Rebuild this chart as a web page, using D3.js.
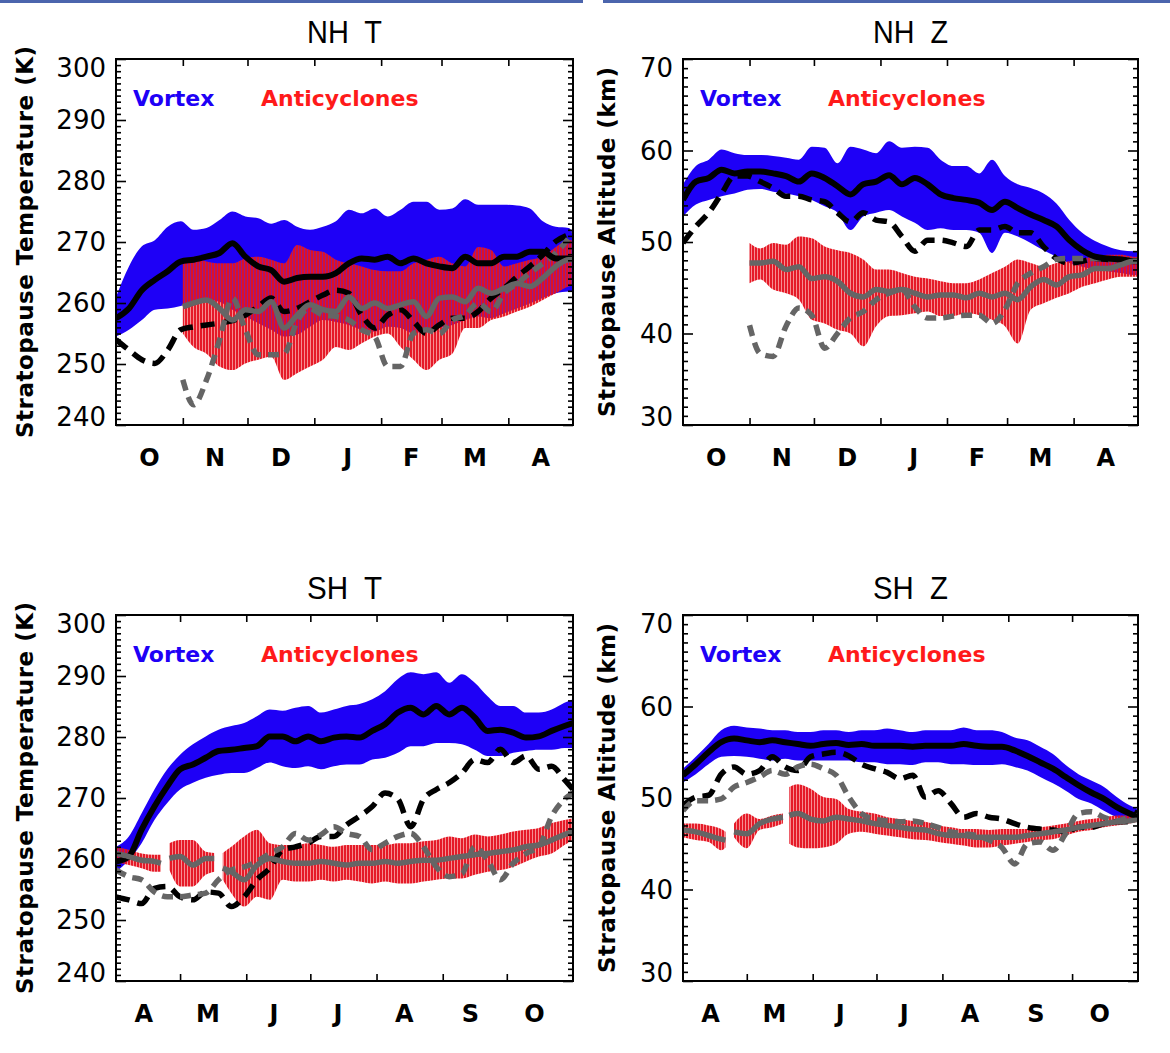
<!DOCTYPE html>
<html><head><meta charset="utf-8">
<script src="https://cdn.jsdelivr.net/npm/d3@7"></script>
<style>body{margin:0;background:#fff}svg{display:block}</style>
</head><body>
<svg id="chart" width="1170" height="1053"></svg>
<script>
// ---------- categories / ticks ----------
const monthsNH = ["O","N","D","J","F","M","A"];
const monthsSH = ["A","M","J","J","A","S","O"];
const monthEdgesNH = [31,61,92,123,151,182];      // days since 1 Oct
const monthEdgesSH = [30,61,91,122,153,183];      // days since 1 Apr
const monthLabelDayNH = [15.5,46,76.5,107.5,137,166.5,197];
const monthLabelDaySH = [13,43,74,104,135,166,196];
const yTicksT = [240,250,260,270,280,290,300];
const yTicksZ = [30,40,50,60,70];

// ---------- sample days ----------
const daysNH = [0,6,12,18,24,30,36,42,48,54,60,66,72,78,84,90,96,102,108,114,120,126,132,138,144,150,156,162,168,174,180,186,192,198,204,210,212];
const aDaysNH = [31,36,42,48,54,60,66,72,78,84,90,96,102,108,114,120,126,132,138,144,150,156,162,168,174,180,186,192,198,204,210,212];
const daysSH = [0,6,12,18,24,30,36,42,48,54,60,66,72,78,84,90,96,102,108,114,120,126,132,138,144,150,156,162,168,174,180,186,192,198,204,210,214];
const aDaysSHT = [0,6,12,18,21,23,25,30,36,42,46,48,50,54,60,66,72,78,84,90,96,102,108,114,120,126,132,138,144,150,156,162,168,174,180,186,192,198,204,210,214];
const aDaysSHZ = [0,6,12,18,20,22,24,30,36,42,47,48,50,54,60,66,72,78,84,90,96,102,108,114,120,126,132,138,144,150,156,162,168,174,180,186,192,198,204,210,214];

// ---------- NH T ----------
const nhtVortexHi = [261,266,269.3,270.3,272.5,273.4,272,272.3,273.6,275,274.2,273.9,273,273.6,272.5,272,272.5,273.4,275.3,274.7,275.5,274.2,275.3,276.6,276.6,275.3,275.5,277,276.1,276.1,276.1,276,275.5,273.4,272.5,272.3,271.5];
const nhtVortexLo = [254.5,255.6,257.2,258.9,259.1,259.5,260.2,260.5,260.2,258.9,257.8,256.7,255.6,254.5,254.8,256.1,257.2,256.9,256.4,255.6,255.3,256.1,255.9,255,255.6,255.9,256.4,257.2,257.8,257.5,258.3,259.1,259.9,260.8,261.6,261.9,261.9];
const nhtVortexMean = [257.5,259.1,262.1,263.8,265.2,266.8,267.1,267.6,268.2,269.8,267.6,266,265.4,263.5,264.1,264.3,264.3,264.9,266.5,267.3,267.1,267.6,266.5,267.3,266.5,266,265.7,267.6,266.5,266.5,267.6,267.6,268.4,268.4,267.3,267.3,267.2];
const nhtDashBlack = [254,252.3,250.7,250.1,252.3,255.6,256.1,256.4,256.7,257.1,258,259.4,260.8,258.6,259.1,260.2,261.3,262.1,261.6,258,255.9,258,258.9,257,255,256.4,257.5,257.5,258.6,260.8,262.4,264.3,266,267.9,270.1,271.2,271.5];
const nhtAntiHi = [266.5,267.6,266.8,266.5,266.5,267.3,267.6,267.1,266.5,269.5,268.7,268.4,267.1,266.5,266,265.4,265.2,265.2,266.5,267.1,267.6,266.5,266,269.2,268.7,266,266.5,267.1,267.6,269.2,270.3,270.3];
const nhtAntiLo = [255,252.8,251.7,249.6,249,250.1,250.7,251.2,247.4,248.5,249.6,250.7,252.8,252.3,253.4,254.5,255,252.8,250.7,249,250.7,251.7,255.9,255.9,257.2,257.8,258.6,259.4,260.5,261.6,262.7,262.9];
const nhtAntiMean = [259.4,260,260.5,259.1,257.2,258.9,258.6,260.2,255.9,258,259.7,258.9,258.6,261,259.1,260,259.1,259.7,260.2,257.8,260.8,261,260.2,262.4,261.6,262.4,263.2,262.7,264.1,266,267.1,267.1];
const nhtDashGray = [247.4,243.3,247.4,253.9,260.8,255.6,251.5,251.5,251.7,257,259.1,258,257.8,257.2,255.6,254.5,249.6,249.6,255,255.6,255,257.2,258,260,258.6,261.6,263.2,264.9,266.5,268.2,270.6,271.5];

// ---------- NH Z ----------
const nhzVortexHi = [56.3,58.3,59,60.1,59.7,59.5,59.5,59.4,59.2,59,60.4,60.3,58.6,60.4,60.1,59.7,61,60.3,60.4,60.3,59,58.3,58.3,57.5,59,57.2,56.3,55.9,55.3,54.2,52.4,51,50.1,49.5,49.1,49,49];
const nhzVortexLo = [52.8,54.1,54.6,55,55.3,55.7,55.8,55.5,55.3,55,54.6,53.9,53.2,51.3,52.8,53.2,53.5,52.8,52.1,51.3,51.5,51.3,51.3,51,48.8,51,50.6,49.9,49.1,48.4,47.7,47.3,47,46.8,46.6,46.4,46.4];
const nhzVortexMean = [54.6,56.6,57,57.9,57.5,57.7,57.7,57.5,57.2,56.6,57.5,57,56.1,55.2,56.3,56.6,57.3,56.3,57,56.3,55.2,54.8,54.6,54.3,53.5,54.4,53.7,53,52.4,51.7,50.2,49.1,48.4,48.2,48.1,47.9,47.9];
const nhzDashBlack = [49.9,51.7,53.2,55.3,57.2,57.2,56.6,55.9,55,55,54.6,54.4,53.2,52.2,53.2,52.4,52.2,50.6,49,50.2,50.2,49.9,49.5,51.3,51.3,51.7,51,51,49.5,48.2,47.7,47.9,48.2,48.1,48.1,47.9,47.9];
const nhzAntiHi = [49.9,49.3,49.9,49.7,50.6,50.4,49.5,49.1,48.8,48.1,47,47,46.6,46.2,46,45.7,45.5,45.5,45.9,46.6,47.3,48.1,47.7,47.3,47.7,47.9,48.2,48.4,48.6,48.6,48.4,48.4];
const nhzAntiLo = [45.5,45.9,44.8,44.4,43.7,41.5,41.1,40.4,40,38.6,40.8,41.9,42,42.2,42.4,41.9,41.9,42.2,42,41.5,40.8,38.9,42.6,43.3,43.9,44.4,45.1,45.5,45.9,46.2,46.2,46.2];
const nhzAntiMean = [47.7,47.7,47.9,47,47.3,46,46.2,45.7,44.4,44,44.8,44.6,44.8,44.4,44,44.2,44.2,43.9,44.4,44,44.4,43.7,45.1,45.9,45.3,46.2,46.4,47.1,47.1,47.5,47.9,47.9];
const nhzDashGray = [40.9,37.8,37.5,40.8,42.8,42,38.4,40,41.7,42.4,43.7,44.4,44.8,42.9,41.7,41.7,41.9,42,42,41.1,42.6,45.5,46.6,47.3,48.1,48.2,48.2,48.2,48.1,48.1,47.9,47.9];

// ---------- SH T ----------
const shtVortexHi = [262,263.7,267.5,271.4,274.7,277.1,278.8,280.1,281.2,281.8,282.3,283.4,284.5,284.3,284.8,285.1,284,284.5,285.1,285.4,286.2,287.5,289.5,290.6,290.3,290.6,288.9,290.3,288.9,286.7,285.1,285.1,284,284,284.5,285.6,286.2];
const shtVortexLo = [257.9,259.8,262.6,266.4,269.2,271.4,272.5,273.3,273.8,274.1,274.1,274.9,275.8,275.2,274.9,275.2,274.7,275.2,275.5,275.5,276.3,276.6,277.4,278.5,278.5,279,279,278.8,277.9,276.9,276.9,277.4,277.7,277.9,277.9,278.2,278.2];
const shtVortexMean = [259.6,260.4,264.8,268.6,271.9,274.7,275.5,276.6,277.7,277.9,278.2,278.5,280.1,280.1,279.3,280.1,279.3,279.9,280.1,279.9,281,282.1,284,284.8,283.7,285.1,283.7,284.8,283.2,281,281.2,280.7,279.9,280.1,281,281.8,282.3];
const shtDashBlack = [253.8,253.3,252.7,255.2,255.5,253.8,253.3,254.6,254.4,252.2,253.8,256.6,258.5,261.5,262,262.6,263.7,263.7,265.6,267,268.6,270.8,269.8,265.3,269.8,271.4,272.5,274.1,276.3,275.8,278,275.8,276.9,274.7,275.2,273,271.4];
const shtDashGray = [258.2,257.1,256.6,254.6,253.8,253.8,254.1,254.4,256.6,258.2,258.7,259.6,260.9,262,264.2,263.1,264,265.3,264.2,263.7,261.5,262.6,263.7,264.2,262,258.7,257.1,257.6,262,259.8,256.6,259.3,260.9,262,267,269.8,270.8];
const shtAntiHi = [262,261.5,260.9,260.7,260.7,null,262.6,263.1,263.1,261.2,261,null,261,262,263.7,264.8,262.6,262.3,262.3,262.6,262.3,262,262.3,262.3,262.3,262.3,262.6,262.6,262.9,263.1,263.7,263.4,264,263.7,264,264.5,264.8,265.1,265.9,266.4,266.7];
const shtAntiLo = [259.6,259,258.5,257.9,257.9,null,258.2,255.5,255.5,257.4,257.9,null,256.6,254.4,252.2,253.8,253.3,256.6,256.3,256.3,256.6,256.3,256.6,256.3,256,256.3,256,256,256.3,256.6,256.8,256.8,257.4,257.9,258.2,258.7,259.6,260.4,260.9,262.3,263.1];
const shtAntiMean = [260.9,260.4,259.8,259.6,259.3,null,260.1,260.4,259,260.1,260.1,null,258.5,257.9,256.6,259,260.1,259.6,259.3,259.3,259.6,259.3,259,259.3,259.3,259.6,259.3,259.6,259.8,259.8,260.1,260.4,260.7,260.9,261.2,261.5,262,262.3,263.1,264,264.5];

// ---------- SH Z ----------
const shzVortexHi = [53.2,54.5,55.9,57.4,57.9,57.7,57.6,57.4,57.4,57.2,57.2,57.4,57.4,57.2,57.4,57.4,57.6,57.4,57.2,57.4,57.4,57.4,57.7,57.4,57.4,57.2,56.6,56.3,55.6,54.8,53.6,52.6,51.9,51.2,50.1,49.2,48.8];
const shzVortexLo = [51.7,52.6,53.7,54.5,54.6,54.5,54.3,54.1,54.3,54.1,54.1,54.1,54.1,54.1,53.9,53.9,53.7,53.7,53.6,53.9,53.9,53.7,53.7,53.6,53.6,53.7,53.4,53,52.3,51.6,50.8,49.9,49.4,48.6,47.9,47.5,47.4];
const shzVortexMean = [52.5,53.7,55,56.1,56.5,56.3,56.1,56.3,56.1,55.9,55.7,55.9,56,55.8,55.9,55.7,55.7,55.7,55.6,55.7,55.7,55.7,55.9,55.7,55.6,55.6,55.2,54.6,53.9,53.2,52.3,51.4,50.6,49.9,49,48.3,47.9];
const shzDashBlack = [49.2,50.1,50.3,52.6,53.4,52.6,53,54.5,53.4,53,54.5,54.8,55,54.6,53.7,53.2,52.8,52.1,52.5,50.1,50.8,49.4,47.9,48.3,47.9,47.7,47.2,46.8,46.6,46.5,46.3,46.8,46.8,47.2,47.4,47.4,48.6];
const shzDashGray = [48.6,49.7,49.7,49.9,51.2,51.7,52.3,53,52.6,53.4,53.7,53.2,52.5,50.1,48.3,47.7,47.5,47.4,47.5,47.2,46.8,46.3,46.1,45.9,45.4,44.6,42.8,45,45.2,44.3,46.1,48.3,48.5,47.9,47.5,47.9,48.1];
const shzAntiHi = [47.2,47.2,47,46.6,46.3,null,47.2,48.3,47.7,48.1,48.3,null,51.2,51.5,51,50.1,49.9,48.8,48.5,48.3,47.9,47.7,47.5,47.4,47,46.8,46.6,46.6,46.5,46.6,46.6,46.6,46.8,47,47.2,47.5,47.7,47.9,48.1,48.1,48.1];
const shzAntiLo = [45.7,45.4,45.2,44.3,44.6,null,45.7,44.5,46.5,46.8,47.2,null,45,44.6,44.5,44.6,45,46.1,46.3,46.1,45.9,45.7,45.5,45.4,45.2,45,44.8,44.6,44.6,44.8,45,45.2,45.4,45.5,45.9,46.3,46.5,46.8,47,47.2,47.4];
const shzAntiMean = [46.5,46.3,45.9,45.5,45.4,null,46.3,46.1,47.2,47.7,47.9,null,48.1,48.3,47.7,47.5,47.9,47.7,47.5,47.2,47,46.8,46.6,46.5,46.1,45.9,45.9,45.7,45.7,45.7,45.7,45.9,46.1,46.3,46.5,46.8,47,47.2,47.4,47.5,47.7];

// ---------- panels ----------
const panels = [
  {title:"NH  T", left:116, top:59, w:457, h:366, ndays:212, yDomain:[240,300], yTicks:yTicksT,
   yLabel:"Stratopause Temperature (K)", yLabelX:-83, yLabelLen:392,
   months:monthsNH, edges:monthEdgesNH, labelDays:monthLabelDayNH,
   vDays:daysNH, vHi:nhtVortexHi, vLo:nhtVortexLo, vMean:nhtVortexMean, dbDays:daysNH, db:nhtDashBlack,
   aDays:aDaysNH, aHi:nhtAntiHi, aLo:nhtAntiLo, aMean:nhtAntiMean, dgDays:aDaysNH, dg:nhtDashGray},
  {title:"NH  Z", left:683, top:59, w:455, h:366, ndays:212, yDomain:[30,70], yTicks:yTicksZ,
   yLabel:"Stratopause Altitude (km)", yLabelX:-68, yLabelLen:350,
   months:monthsNH, edges:monthEdgesNH, labelDays:monthLabelDayNH,
   vDays:daysNH, vHi:nhzVortexHi, vLo:nhzVortexLo, vMean:nhzVortexMean, dbDays:daysNH, db:nhzDashBlack,
   aDays:aDaysNH, aHi:nhzAntiHi, aLo:nhzAntiLo, aMean:nhzAntiMean, dgDays:aDaysNH, dg:nhzDashGray},
  {title:"SH  T", left:116, top:615, w:457, h:366, ndays:214, yDomain:[240,300], yTicks:yTicksT,
   yLabel:"Stratopause Temperature (K)", yLabelX:-83, yLabelLen:392,
   months:monthsSH, edges:monthEdgesSH, labelDays:monthLabelDaySH,
   vDays:daysSH, vHi:shtVortexHi, vLo:shtVortexLo, vMean:shtVortexMean, dbDays:daysSH, db:shtDashBlack,
   aDays:aDaysSHT, aHi:shtAntiHi, aLo:shtAntiLo, aMean:shtAntiMean, dgDays:daysSH, dg:shtDashGray},
  {title:"SH  Z", left:683, top:615, w:455, h:366, ndays:214, yDomain:[30,70], yTicks:yTicksZ,
   yLabel:"Stratopause Altitude (km)", yLabelX:-68, yLabelLen:350,
   months:monthsSH, edges:monthEdgesSH, labelDays:monthLabelDaySH,
   vDays:daysSH, vHi:shzVortexHi, vLo:shzVortexLo, vMean:shzVortexMean, dbDays:daysSH, db:shzDashBlack,
   aDays:aDaysSHZ, aHi:shzAntiHi, aLo:shzAntiLo, aMean:shzAntiMean, dgDays:daysSH, dg:shzDashGray}
];

const BLUE = "#1e00f6", GRAY = "#656565";
const svg = d3.select("#chart");

// decorative top bar
svg.append("rect").attr("x",0).attr("y",0).attr("width",583).attr("height",3).attr("fill","#4b65ad");
svg.append("rect").attr("x",603).attr("y",0).attr("width",567).attr("height",3).attr("fill","#4b65ad");

const defs = svg.append("defs");
const pat = defs.append("pattern").attr("id","hatch").attr("patternUnits","userSpaceOnUse")
  .attr("width",3).attr("height",20);
pat.append("rect").attr("width",3).attr("height",20).attr("fill","rgba(238,50,55,0.55)");
pat.append("rect").attr("width",2).attr("height",20).attr("fill","rgba(228,16,32,0.92)");

panels.forEach((p,pi) => {
  const g = svg.append("g").attr("transform",`translate(${p.left},${p.top})`);
  const x = d3.scaleLinear().domain([0,p.ndays]).range([0,p.w]);
  const y = d3.scaleLinear().domain(p.yDomain).range([p.h,0]);

  defs.append("clipPath").attr("id","clip"+pi).append("rect").attr("width",p.w).attr("height",p.h);
  const plot = g.append("g").attr("clip-path",`url(#clip${pi})`);

  const band = (days, lo, hi) => d3.area()
      .defined((d,i) => lo[i] != null && hi[i] != null)
      .x((d,i) => x(days[i])).y0((d,i) => y(lo[i])).y1((d,i) => y(hi[i]))
      .curve(d3.curveMonotoneX)(days);
  const line = (days, vals) => d3.line()
      .defined((d,i) => vals[i] != null)
      .x((d,i) => x(days[i])).y((d,i) => y(vals[i]))
      .curve(d3.curveMonotoneX)(days);

  plot.append("path").attr("d", band(p.vDays, p.vLo, p.vHi)).attr("fill", BLUE);
  plot.append("path").attr("d", band(p.aDays, p.aLo, p.aHi)).attr("fill", "url(#hatch)");
  plot.append("path").attr("d", line(p.dbDays, p.db)).attr("fill","none").attr("stroke","#000")
      .attr("stroke-width",5.5).attr("stroke-dasharray","14,8");
  plot.append("path").attr("d", line(p.dgDays, p.dg)).attr("fill","none").attr("stroke",GRAY)
      .attr("stroke-width",5.5).attr("stroke-dasharray","11,7");
  plot.append("path").attr("d", line(p.vDays, p.vMean)).attr("fill","none").attr("stroke","#000")
      .attr("stroke-width",6).attr("stroke-linejoin","round");
  plot.append("path").attr("d", line(p.aDays, p.aMean)).attr("fill","none").attr("stroke",GRAY)
      .attr("stroke-width",5.5).attr("stroke-linejoin","round");

  // axes (inward ticks)
  const minor = d3.range(p.yDomain[0], p.yDomain[1]+0.5, 1).filter(v => !p.yTicks.includes(v));
  const styleAx = s => { s.select(".domain").remove(); s.selectAll(".tick line").attr("stroke","#000").attr("stroke-width",1.6); s.selectAll("text").remove(); };
  g.append("g").attr("transform",`translate(0,${p.h})`).call(d3.axisBottom(x).tickValues(p.edges).tickSize(-7)).call(styleAx);
  g.append("g").call(d3.axisTop(x).tickValues(p.edges).tickSize(-7)).call(styleAx);
  g.append("g").call(d3.axisLeft(y).tickValues(p.yTicks).tickSize(-10)).call(styleAx);
  g.append("g").call(d3.axisLeft(y).tickValues(minor).tickSize(-5)).call(styleAx);
  g.append("g").attr("transform",`translate(${p.w},0)`).call(d3.axisRight(y).tickValues(p.yTicks).tickSize(-10)).call(styleAx);
  g.append("g").attr("transform",`translate(${p.w},0)`).call(d3.axisRight(y).tickValues(minor).tickSize(-5)).call(styleAx);

  g.append("rect").attr("width",p.w).attr("height",p.h).attr("fill","none").attr("stroke","#000").attr("stroke-width",2);

  // y tick labels
  const n = p.yTicks.length;
  g.selectAll(".ylab").data(p.yTicks).enter().append("text")
    .attr("x",-10).attr("y", (d,i) => y(d) + (i===n-1 ? 9 : (i===0 ? -8 : 0)))
    .attr("dy","0.36em").attr("text-anchor","end")
    .attr("font-family","DejaVu Sans").attr("font-size",26).attr("fill","#000")
    .text(d => d);

  // month labels
  g.selectAll(".mlab").data(p.months).enter().append("text")
    .attr("x",(d,i) => x(p.labelDays[i])).attr("y", p.h + 41)
    .attr("text-anchor","middle").attr("font-family","DejaVu Sans").attr("font-weight","bold")
    .attr("font-size",24).attr("fill","#000").text(d => d);

  // title
  g.append("text").attr("x",p.w/2).attr("y",-16).attr("text-anchor","middle")
    .attr("font-family","Liberation Sans, Arial").attr("font-size",32).attr("fill","#000")
    .attr("textLength",75).attr("lengthAdjust","spacingAndGlyphs")
    .style("white-space","pre").text(p.title);

  // y-axis label
  g.append("text").attr("transform",`translate(${p.yLabelX},${p.h/2}) rotate(-90)`)
    .attr("text-anchor","middle").attr("font-family","DejaVu Sans").attr("font-weight","bold")
    .attr("font-size",23).attr("textLength",p.yLabelLen).attr("lengthAdjust","spacing")
    .attr("fill","#000").text(p.yLabel);

  // legend
  g.append("text").attr("x",17).attr("y",47).attr("font-family","DejaVu Sans").attr("font-weight","bold")
    .attr("font-size",22).attr("fill",BLUE).text("Vortex");
  g.append("text").attr("x",145).attr("y",47).attr("font-family","DejaVu Sans").attr("font-weight","bold")
    .attr("font-size",22).attr("fill","#ff1a1a").text("Anticyclones");
});
</script>
</body></html>
